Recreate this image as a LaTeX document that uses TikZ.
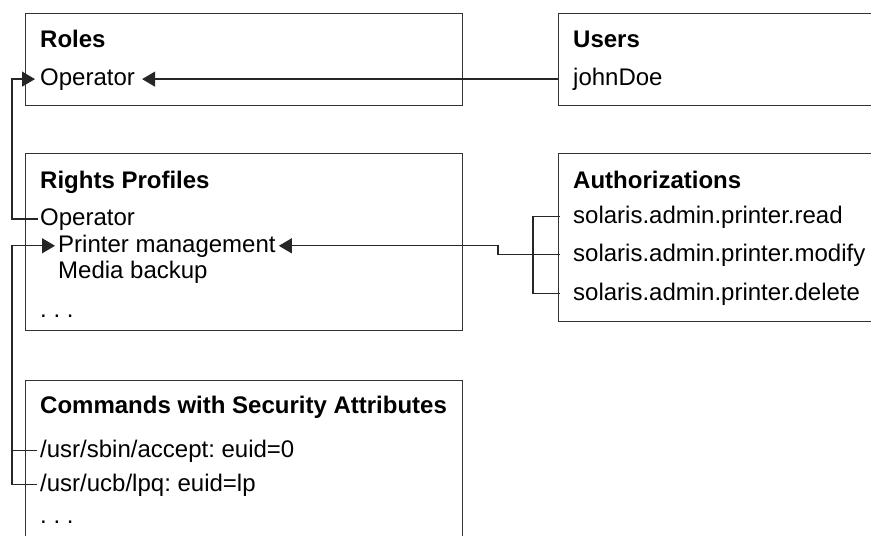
\documentclass[tikz,border=0pt]{standalone}
\usepackage{fontspec}
\setmainfont{Liberation Sans}
\usetikzlibrary{arrows.meta}
\begin{document}
\frenchspacing
\begin{tikzpicture}[x=1pt,y=-1pt,
  box/.style={draw=black!80,line width=1.4pt,anchor=north west,inner sep=0pt},
  conn/.style={line width=1.3pt,black!85},
  tip/.style={-{Triangle[length=13pt,width=15pt]}},
  txt/.style={anchor=base west,inner sep=0pt,font=\fontsize{24}{28}\selectfont},
  ttl/.style={anchor=base west,inner sep=0pt,font=\fontsize{24}{28}\selectfont\bfseries}]
\useasboundingbox (0,0) rectangle (871,536);
\clip (0,0) rectangle (871,536);
% boxes
\node[box,minimum width=437pt,minimum height=92pt] (roles) at (25,13) {};
\node[box,minimum width=360pt,minimum height=92pt] (users) at (558,13) {};
\node[box,minimum width=437pt,minimum height=177pt] (rights) at (25,153) {};
\node[box,minimum width=360pt,minimum height=168pt] (auth) at (558,153) {};
\node[box,minimum width=437pt,minimum height=200pt] (cmds) at (25,380) {};
% texts
\node[ttl] (rolesT) at (40,47) {Roles};
\node[txt] (rolesOp) at (40,85) {Operator};
\node[ttl] (usersT) at (573,47) {Users};
\node[txt] (john) at (573,85) {johnDoe};
\node[ttl] (rightsT) at (40,188) {Rights Profiles};
\node[txt] (rpOp) at (40,225) {Operator};
\node[txt] (rpPrint) at (58,252) {Printer management};
\node[txt] (rpMedia) at (58,278) {Media backup};
\node[txt] (rpDots) at (40,317) {.\ .\ .};
\node[ttl] (authT) at (573,188) {Authorizations};
\node[txt] (aRead) at (573,223) {solaris.admin.printer.read};
\node[txt] (aModify) at (573,261) {solaris.admin.printer.modify};
\node[txt] (aDelete) at (573,300) {solaris.admin.printer.delete};
\node[ttl] (cmdT) at (40,413) {Commands with Security Attributes};
\node[txt] (cAccept) at (40,457) {/usr/sbin/accept: euid=0};
\node[txt] (cLpq) at (40,491) {/usr/ucb/lpq: euid=lp};
\node[txt] (cDots) at (40,523) {.\ .\ .};
% helper coordinates
\coordinate (busL) at (12,0);
\coordinate (brk) at (533,0);
\coordinate (jog) at (498,0);
% connectors
\draw[conn,tip] (users.west |- rolesOp.east) -- ([xshift=7pt]rolesOp.east);
\draw[conn,tip] ([xshift=-2pt]rpOp.west) -- (busL |- rpOp.west) -- (busL |- rolesOp.west) -- ([xshift=-5pt]rolesOp.west);
\draw[conn,tip] ([xshift=-3pt]cAccept.west) -- (busL |- cAccept.west) -- (busL |- rpPrint.west) -- ([xshift=-3pt]rpPrint.west);
\draw[conn] ([xshift=-3pt]cLpq.west) -- (busL |- cLpq.west) -- (busL |- cAccept.west);
\draw[conn] ([xshift=2pt]auth.west |- aRead.west) -- (brk |- aRead.west) -- (brk |- aDelete.west) -- ([xshift=2pt]auth.west |- aDelete.west);
\draw[conn,tip] ([xshift=2pt]auth.west |- aModify.west) -- (jog |- aModify.west) -- (jog |- rpPrint.east) -- ([xshift=3pt]rpPrint.east);
\end{tikzpicture}
\end{document}
